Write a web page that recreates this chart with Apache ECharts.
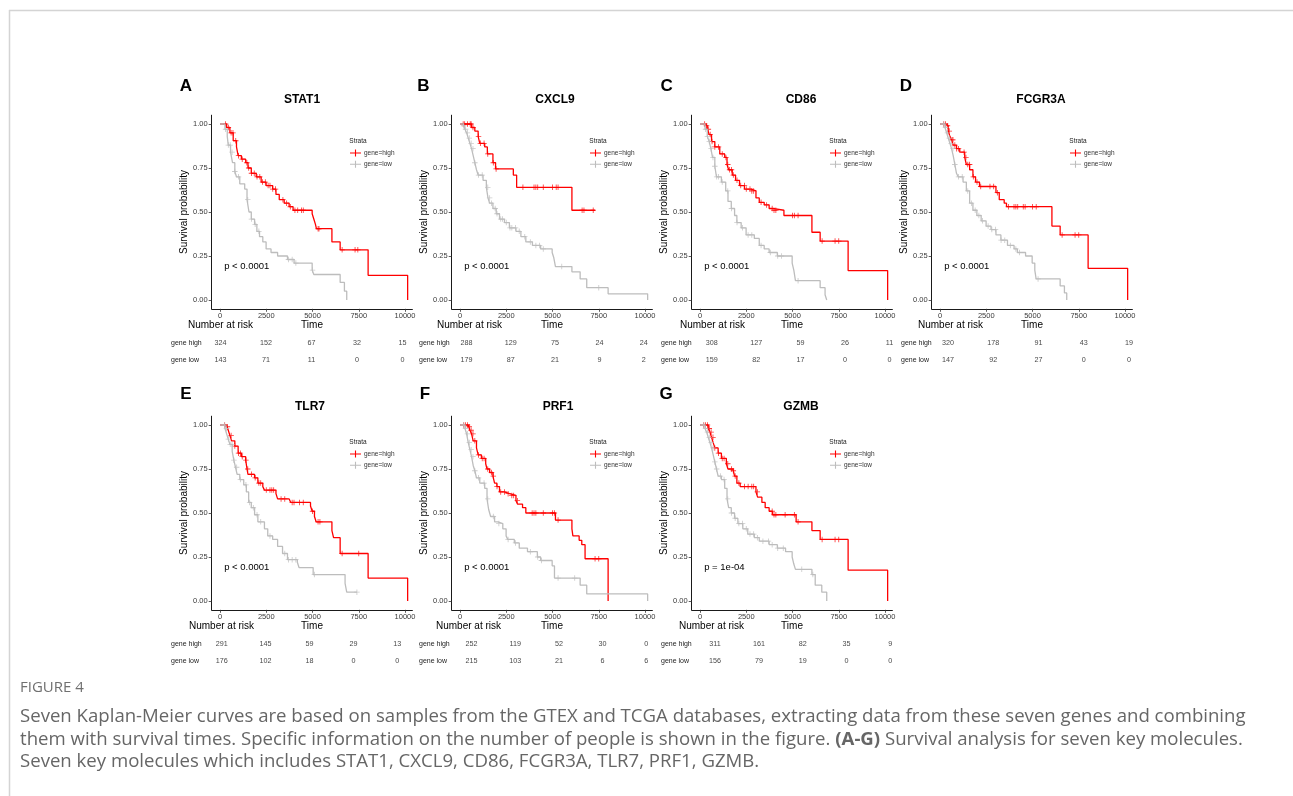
<!DOCTYPE html>
<html><head><meta charset="utf-8">
<script src="https://cdn.jsdelivr.net/npm/echarts@6/dist/echarts.min.js"></script>
<style>html,body{margin:0;padding:0;background:#fff}#c{width:1293px;height:796px}</style>
</head><body><div id="c"></div>
<script>
// ---------------- DATA ----------------
const panelLetters = ['A','B','C','D','E','F','G'];
const geneNames = ['STAT1','CXCL9','CD86','FCGR3A','TLR7','PRF1','GZMB'];
const pValues = ['p < 0.0001','p < 0.0001','p < 0.0001','p < 0.0001','p < 0.0001','p < 0.0001','p = 1e-04'];
const xTicks = [0,2500,5000,7500,10000];
const yTicks = [0,0.25,0.5,0.75,1];
const riskRows = ['gene high','gene low'];
const legendNames = ['gene=high','gene=low'];

// Kaplan-Meier steps [time, survival after the event]
const stat1High = [[0,1],[356,0.98],[534,0.95],[712,0.905],[890,0.87],[979,0.82],[1156,0.80],[1388,0.78],[1512,0.75],[1690,0.72],[1957,0.70],[2224,0.67],[2491,0.65],[2846,0.63],[3024,0.60],[3202,0.57],[3469,0.55],[3736,0.53],[3950,0.51],[4981,0.49],[5070,0.46],[5159,0.43],[5212,0.405],[6049,0.33],[6494,0.285],[8006,0.14],[10143,0]];
const stat1HighCens = [300,450,600,700,850,1000,1200,1450,1550,1700,1850,2000,2150,2300,2450,2600,2700,2850,3000,3400,3600,3800,4050,4200,4400,4500,5300,5350,6600,7300,7450];
const stat1Low = [[0,1],[267,0.97],[391,0.93],[445,0.88],[569,0.84],[676,0.78],[800,0.73],[890,0.70],[1067,0.66],[1334,0.63],[1459,0.57],[1566,0.50],[1690,0.46],[1868,0.43],[1992,0.39],[2135,0.36],[2313,0.33],[2491,0.29],[2757,0.27],[3113,0.25],[3647,0.23],[4003,0.21],[4981,0.17],[5070,0.145],[6494,0.10],[6725,0.05],[6850,0]];
const stat1LowCens = [300,450,550,650,800,1000,1500,1700,1900,2100,3700,3900,4100,5000];
const stat1RiskHigh = [324,152,67,32,15];
const stat1RiskLow = [143,71,11,0,0];

const cxcl9High = [[0,1],[623,0.98],[800,0.96],[979,0.93],[1067,0.89],[1334,0.87],[1477,0.83],[1779,0.78],[1921,0.745],[2882,0.71],[3060,0.64],[6049,0.51],[7294,0.51]];
const cxcl9HighCens = [170,250,400,550,600,700,1000,1100,1300,1500,1800,1950,3400,4000,4100,4200,4500,5000,5200,5300,6600,6700,7200];
const cxcl9Low = [[0,1],[178,0.99],[267,0.97],[356,0.95],[445,0.92],[534,0.89],[623,0.86],[712,0.82],[800,0.78],[890,0.74],[979,0.71],[1245,0.68],[1423,0.64],[1512,0.58],[1601,0.55],[1779,0.52],[1957,0.49],[2135,0.46],[2402,0.44],[2669,0.41],[3024,0.39],[3291,0.36],[3558,0.33],[3914,0.31],[4358,0.29],[4981,0.27],[5070,0.24],[5159,0.19],[6049,0.16],[6494,0.12],[6850,0.07],[8006,0.035],[10143,0]];
const cxcl9LowCens = [200,300,400,500,600,700,800,1000,1200,1500,1600,1700,1900,2000,2200,2300,2500,2700,2800,3000,3200,3500,3800,4100,4300,4500,5500,7500];
const cxcl9RiskHigh = [288,129,75,24,24];
const cxcl9RiskLow = [179,87,21,9,2];

const cd86High = [[0,1],[267,0.99],[391,0.97],[498,0.94],[623,0.90],[800,0.87],[1067,0.83],[1334,0.81],[1459,0.77],[1548,0.74],[1743,0.71],[1921,0.68],[2135,0.65],[2402,0.63],[2757,0.62],[3024,0.58],[3202,0.555],[3469,0.54],[3736,0.52],[3914,0.51],[4536,0.48],[6049,0.385],[6494,0.335],[8006,0.167],[10143,0]];
const cd86HighCens = [250,350,450,550,650,800,1000,1200,1400,1500,1600,1700,1800,2000,2200,2400,2500,2700,2800,2900,3300,3600,3900,4000,4100,5000,5100,5300,6600,7300,7500];
const cd86Low = [[0,1],[267,0.97],[391,0.93],[498,0.90],[587,0.86],[676,0.81],[800,0.76],[890,0.70],[1156,0.67],[1388,0.62],[1512,0.56],[1690,0.52],[1868,0.48],[1992,0.44],[2224,0.41],[2491,0.37],[2935,0.35],[3202,0.31],[3469,0.29],[3736,0.27],[4180,0.25],[4981,0.21],[5070,0.17],[5159,0.11],[6494,0.07],[6760,0.03],[6850,0]];
const cd86LowCens = [300,400,500,600,700,800,900,1000,1200,1500,1700,2000,2300,2600,2800,3300,3800,4200,4400,5300];
const cd86RiskHigh = [308,127,59,26,11];
const cd86RiskLow = [159,82,17,0,0];

const fcgr3aHigh = [[0,1],[320,0.99],[445,0.96],[534,0.93],[623,0.91],[712,0.88],[890,0.86],[1067,0.84],[1334,0.81],[1423,0.77],[1601,0.74],[1779,0.70],[1921,0.67],[2135,0.645],[3024,0.61],[3202,0.57],[3469,0.55],[3594,0.53],[6049,0.42],[6494,0.37],[8006,0.18],[10143,0]];
const fcgr3aHighCens = [200,300,400,500,650,700,800,900,1000,1300,1400,1500,1600,1800,2000,2200,2700,2900,3100,3700,4000,4100,4200,4500,4600,5000,5200,6600,7300,7500];
const fcgr3aLow = [[0,1],[267,0.98],[356,0.95],[445,0.92],[534,0.89],[623,0.86],[712,0.82],[800,0.77],[890,0.72],[979,0.70],[1245,0.67],[1423,0.62],[1601,0.55],[1779,0.51],[1992,0.48],[2224,0.45],[2491,0.42],[2757,0.40],[3024,0.37],[3291,0.34],[3647,0.31],[4003,0.29],[4180,0.27],[4625,0.25],[4981,0.21],[5123,0.17],[5195,0.12],[6494,0.08],[6725,0.04],[6850,0]];
const fcgr3aLowCens = [200,300,400,500,600,700,800,1000,1200,1500,1700,1900,2100,2300,2600,2800,3000,3300,3500,3800,4100,4300,5300];
const fcgr3aRiskHigh = [320,178,91,43,19];
const fcgr3aRiskLow = [147,92,27,0,0];

const tlr7High = [[0,1],[356,0.99],[445,0.97],[534,0.94],[623,0.91],[800,0.88],[979,0.84],[1156,0.82],[1388,0.80],[1459,0.75],[1512,0.72],[1868,0.70],[2046,0.67],[2313,0.65],[2402,0.63],[3024,0.61],[3113,0.58],[3736,0.57],[3825,0.56],[4892,0.54],[4981,0.51],[5106,0.48],[5195,0.45],[6049,0.40],[6138,0.36],[6494,0.27],[8006,0.13],[10143,0]];
const tlr7HighCens = [250,400,600,800,1000,1100,1200,1400,1500,1700,1900,2100,2200,2500,2700,2800,2900,3300,3500,3900,4000,4300,4500,5000,5300,5400,6600,7500];
const tlr7Low = [[0,1],[267,0.98],[356,0.95],[445,0.92],[534,0.89],[658,0.85],[747,0.80],[836,0.76],[925,0.72],[1067,0.69],[1281,0.66],[1423,0.62],[1548,0.56],[1690,0.53],[1868,0.49],[2046,0.45],[2402,0.41],[2580,0.37],[2846,0.35],[3113,0.31],[3380,0.27],[3647,0.235],[4180,0.22],[4270,0.19],[5035,0.15],[6760,0.10],[6850,0.05],[7400,0.05]];
const tlr7LowCens = [250,350,450,550,650,750,900,1100,1400,1600,1800,2000,2200,2700,3500,3700,3900,4100,5100,7400];
const tlr7RiskHigh = [291,145,59,29,13];
const tlr7RiskLow = [176,102,18,0,0];

const prf1High = [[0,1],[445,0.99],[534,0.97],[623,0.95],[712,0.91],[890,0.87],[979,0.83],[1156,0.81],[1388,0.78],[1459,0.75],[1601,0.73],[1779,0.71],[1868,0.67],[1992,0.65],[2135,0.62],[2402,0.61],[2669,0.60],[3024,0.57],[3113,0.55],[3380,0.53],[3558,0.50],[5159,0.46],[6049,0.41],[6102,0.37],[6440,0.345],[6582,0.32],[6760,0.24],[8006,0]];
const prf1HighCens = [200,300,400,500,600,700,800,1000,1200,1300,1500,1700,1800,2000,2200,2400,2600,2800,2900,3100,3900,4000,4100,4500,5000,5100,5300,7300,7500];
const prf1Low = [[0,1],[267,0.98],[356,0.95],[445,0.90],[534,0.86],[623,0.82],[712,0.77],[800,0.74],[890,0.70],[1067,0.67],[1334,0.64],[1459,0.58],[1548,0.52],[1655,0.48],[1868,0.45],[2046,0.44],[2313,0.41],[2491,0.37],[2580,0.35],[2935,0.33],[3202,0.30],[3647,0.28],[4180,0.25],[4358,0.23],[4981,0.20],[5106,0.13],[6494,0.09],[6850,0.04],[10143,0]];
const prf1LowCens = [200,300,400,500,600,700,800,1000,1300,1500,1800,2100,2600,3000,3800,4200,4400,5300,6200];
const prf1RiskHigh = [252,119,52,30,0];
const prf1RiskLow = [215,103,21,6,6];

const gzmbHigh = [[0,1],[445,0.98],[534,0.96],[623,0.93],[712,0.90],[800,0.87],[979,0.84],[1156,0.81],[1423,0.78],[1512,0.75],[1779,0.74],[1868,0.71],[1992,0.67],[2170,0.65],[3024,0.62],[3113,0.59],[3345,0.56],[3522,0.53],[3736,0.51],[3914,0.49],[5195,0.45],[6049,0.40],[6494,0.35],[8006,0.175],[10143,0]];
const gzmbHighCens = [200,300,400,500,600,700,800,1000,1200,1300,1500,1700,1800,1900,2100,2400,2600,2800,2900,3100,3900,4000,4100,4600,5100,5300,6600,7300,7500];
const gzmbLow = [[0,1],[267,0.98],[356,0.96],[445,0.93],[534,0.90],[623,0.87],[712,0.83],[800,0.79],[890,0.75],[979,0.71],[1156,0.69],[1334,0.64],[1459,0.58],[1548,0.53],[1690,0.50],[1868,0.47],[2046,0.44],[2313,0.41],[2580,0.38],[2935,0.36],[3202,0.34],[3736,0.32],[4180,0.30],[4625,0.28],[4981,0.25],[5070,0.21],[5159,0.18],[6049,0.15],[6227,0.09],[6582,0.05],[6850,0]];
const gzmbLowCens = [200,300,400,500,600,700,800,900,1100,1300,1500,1700,1900,2100,2300,2500,2700,2900,3100,3400,3700,3900,4200,4500,5500,6100];
const gzmbRiskHigh = [311,161,82,35,9];
const gzmbRiskLow = [156,79,19,0,0];

const captionHead = 'FIGURE 4';
const captionLines = [
  'Seven Kaplan-Meier curves are based on samples from the GTEX and TCGA databases, extracting data from these seven genes and combining',
  'them with survival times. Specific information on the number of people is shown in the figure. {b|(A-G)} Survival analysis for seven key molecules.',
  'Seven key molecules which includes STAT1, CXCL9, CD86, FCGR3A, TLR7, PRF1, GZMB.'
];

// ---------------- LAYOUT ----------------
const curves = [
  [stat1High, stat1HighCens, stat1Low, stat1LowCens, stat1RiskHigh, stat1RiskLow],
  [cxcl9High, cxcl9HighCens, cxcl9Low, cxcl9LowCens, cxcl9RiskHigh, cxcl9RiskLow],
  [cd86High, cd86HighCens, cd86Low, cd86LowCens, cd86RiskHigh, cd86RiskLow],
  [fcgr3aHigh, fcgr3aHighCens, fcgr3aLow, fcgr3aLowCens, fcgr3aRiskHigh, fcgr3aRiskLow],
  [tlr7High, tlr7HighCens, tlr7Low, tlr7LowCens, tlr7RiskHigh, tlr7RiskLow],
  [prf1High, prf1HighCens, prf1Low, prf1LowCens, prf1RiskHigh, prf1RiskLow],
  [gzmbHigh, gzmbHighCens, gzmbLow, gzmbLowCens, gzmbRiskHigh, gzmbRiskLow]
];
const layout = [
  {left:211.7, row:0, titleX:302, letterX:186, rowLabelX:171, narX:188, rx0:220.4, rstep:45.5},
  {left:451.7, row:0, titleX:555, letterX:423.5, rowLabelX:419, narX:437, rx0:466.5, rstep:44.3},
  {left:691.7, row:0, titleX:801, letterX:666.7, rowLabelX:661, narX:680, rx0:711.8, rstep:44.4},
  {left:931.7, row:0, titleX:1041, letterX:906, rowLabelX:901, narX:918, rx0:947.9, rstep:45.3},
  {left:211.7, row:1, titleX:310, letterX:186, rowLabelX:171, narX:189, rx0:221.7, rstep:43.9},
  {left:451.7, row:1, titleX:558, letterX:425, rowLabelX:419, narX:436, rx0:471.5, rstep:43.7},
  {left:691.7, row:1, titleX:801, letterX:666, rowLabelX:661, narX:679, rx0:715.1, rstep:43.8}
];
const rowTop = [115.2, 416.2];
const rowTitleY = [100, 407];
const rowLetterY = [86, 394];
const PLOT_W = 200.7, PLOT_H = 193.6;
const FONT = 'Liberation Sans, Arial, sans-serif';
const CAP_FONT = 'Open Sans, sans-serif';
const CAP_SIZE = 18.6;
const RED = '#ff0000', GREY = '#bdbdbd';
const PLUS = 'path://M0,3.4h8v1.2h-8z M3.4,0h1.2v8h-1.2z';
const LEG_ICON = 'path://M0,4.4h12v1.2h-12z M5.4,1.2h1.2v7.6h-1.2z';

function survAt(steps, t) {
  let s = steps[0][1];
  for (const p of steps) { if (p[0] <= t) s = p[1]; else break; }
  return s;
}

const grid = [], xAxis = [], yAxis = [], series = [], legend = [], graphic = [];

layout.forEach((L, i) => {
  const top = rowTop[L.row];
  const [hi, hiC, lo, loC, rHi, rLo] = curves[i];
  // KM grid
  grid.push({left: L.left, top: top, width: PLOT_W, height: PLOT_H});
  xAxis.push({
    type:'value', gridIndex: grid.length-1, min:-450, max:10400,
    name:'Time', nameLocation:'middle', nameGap:11,
    nameTextStyle:{fontSize:10, color:'#000', fontFamily:FONT},
    axisLine:{show:true, onZero:false, lineStyle:{color:'#000', width:0.9}},
    axisTick:{show:true, length:3, lineStyle:{color:'#333', width:0.8}, customValues:xTicks},
    axisLabel:{fontSize:7.5, color:'#3a3a3a', margin:3, fontFamily:FONT, customValues:xTicks,
      formatter: v => String(Math.round(v))},
    splitLine:{show:false}
  });
  yAxis.push({
    type:'value', gridIndex: grid.length-1, min:-0.05, max:1.05,
    name:'Survival probability', nameLocation:'middle', nameGap:21.5, nameRotate:90,
    nameTextStyle:{fontSize:10, color:'#000', fontFamily:FONT},
    axisLine:{show:true, onZero:false, lineStyle:{color:'#000', width:0.9}},
    axisTick:{show:true, length:3, lineStyle:{color:'#333', width:0.8}, customValues:yTicks},
    axisLabel:{fontSize:7.5, color:'#3a3a3a', margin:4, fontFamily:FONT, customValues:yTicks,
      formatter: v => v.toFixed(2)},
    splitLine:{show:false}
  });
  const gi = grid.length-1;
  series.push({type:'line', name:legendNames[0], xAxisIndex:gi, yAxisIndex:gi, data:hi, step:'end',
    showSymbol:false, color:RED, lineStyle:{color:RED, width:1.3}, silent:true, z:3});
  series.push({type:'scatter', name:'cens-high', xAxisIndex:gi, yAxisIndex:gi,
    data: hiC.map(t => [t, survAt(hi, t)]), symbol:PLUS, symbolSize:5.5, itemStyle:{color:RED}, silent:true, z:3});
  series.push({type:'line', name:legendNames[1], xAxisIndex:gi, yAxisIndex:gi, data:lo, step:'end',
    showSymbol:false, color:GREY, lineStyle:{color:GREY, width:1.3}, silent:true, z:4});
  series.push({type:'scatter', name:'cens-low', xAxisIndex:gi, yAxisIndex:gi,
    data: loC.map(t => [t, survAt(lo, t)]), symbol:PLUS, symbolSize:5.5, itemStyle:{color:GREY}, silent:true, z:4});

  // risk table grid
  const rTop = top + 219.3;
  const rLeft = L.rx0 - L.rstep/2;
  grid.push({left: rLeft, top: rTop, width: L.rstep*5, height: 34});
  const ri = grid.length-1;
  xAxis.push({type:'value', gridIndex:ri, min:-0.5, max:4.5, show:false});
  yAxis.push({type:'category', gridIndex:ri, data:riskRows, inverse:true,
    axisLine:{show:false}, axisTick:{show:false}, splitLine:{show:false},
    axisLabel:{align:'left', margin: rLeft - L.rowLabelX, fontSize:7, color:'#222', fontFamily:FONT}});
  const rdata = rHi.map((v,k)=>[k, riskRows[0], v]).concat(rLo.map((v,k)=>[k, riskRows[1], v]));
  series.push({type:'scatter', name:'risk', xAxisIndex:ri, yAxisIndex:ri, data:rdata,
    symbolSize:1, itemStyle:{color:'rgba(0,0,0,0)'}, silent:true,
    label:{show:true, position:'inside', formatter:p=>String(p.value[2]), fontSize:7.2, color:'#111', fontFamily:FONT}});

  // legend
  legend.push({left: L.left + 138.3, top: top + 34.3, orient:'vertical', data:legendNames,
    icon: LEG_ICON, itemWidth:11, itemHeight:7, itemGap:4.3, padding:0, selectedMode:false,
    itemStyle:{borderWidth:0},
    textStyle:{fontSize:6.5, color:'#333', fontFamily:FONT, padding:[0,0,0,-2]}});

  // texts
  const T = (text, x, y, size, opts={}) => graphic.push({type:'text', silent:true, style:Object.assign({
    text, x, y, fontSize:size, fontFamily:FONT, fill:'#000', textAlign:'left', textVerticalAlign:'middle',
    align:'left', verticalAlign:'middle'}, opts)});
  T(panelLetters[i], L.letterX, rowLetterY[L.row], 17, {fontWeight:'bold', textAlign:'center', align:'center'});
  T(geneNames[i], L.titleX, rowTitleY[L.row], 12, {fontWeight:'bold', textAlign:'center', align:'center'});
  T('Strata', L.left + 137.6, top + 25.8, 6.5, {fill:'#222'});
  T(pValues[i], L.left + 12.5, top + 150.8, 9.5);
  T('Number at risk', L.narX, top + 209.8, 10);
});

// caption and frame
graphic.push({type:'line', silent:true, shape:{x1:9, y1:10.5, x2:1293, y2:10.5}, style:{stroke:'#d4d4d4', lineWidth:1.5}});
graphic.push({type:'line', silent:true, shape:{x1:9.5, y1:10, x2:9.5, y2:796}, style:{stroke:'#d4d4d4', lineWidth:1.5}});
graphic.push({type:'text', silent:true, style:{text:captionHead, x:20, y:688, fontSize:15, fontFamily:CAP_FONT,
  fill:'#707070', textVerticalAlign:'middle', verticalAlign:'middle'}});
captionLines.forEach((line, k) => {
  graphic.push({type:'text', silent:true, style:{text:line, x:20, y:717 + k*22.3, fontSize:CAP_SIZE,
    fontFamily:CAP_FONT, fill:'#666666', textVerticalAlign:'middle', verticalAlign:'middle',
    rich:{b:{fontWeight:'bold', fontSize:CAP_SIZE, fontFamily:CAP_FONT, fill:'#666666', color:'#666666'}}}});
});

const chart = echarts.init(document.getElementById('c'), null, {renderer:'canvas'});
chart.setOption({animation:false, backgroundColor:'#fff', grid, xAxis, yAxis, series, legend, graphic});
</script></body></html>
